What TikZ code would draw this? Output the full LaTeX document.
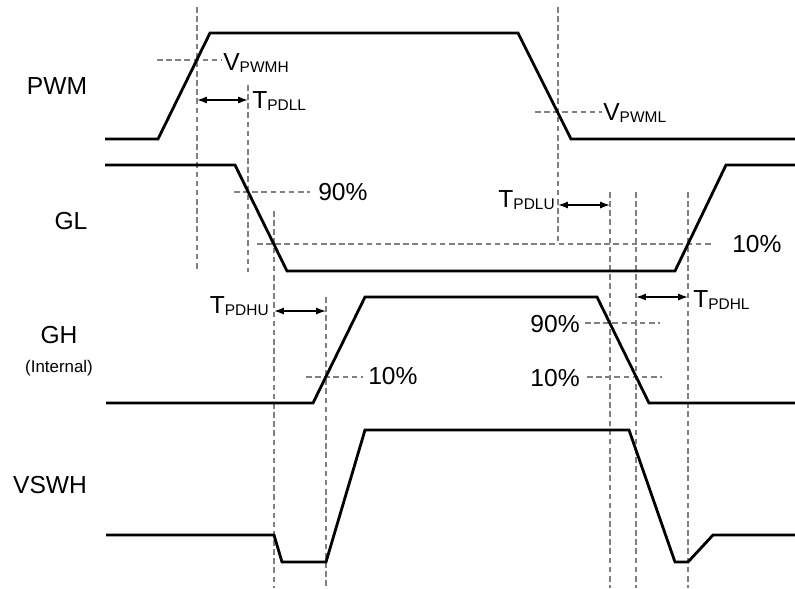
\documentclass[tikz,border=0pt]{standalone}
\usepackage{fontspec}
\setmainfont{Liberation Sans}
\usetikzlibrary{arrows.meta}
\newcommand{\lowtxt}[1]{\raisebox{-2pt}{\fontsize{11pt}{11pt}\selectfont #1}}
\begin{document}
\begin{tikzpicture}[x=0.025cm, y=-0.025cm,
    wave/.style={line width=2pt, line join=miter},
    guide/.style={gray, line width=1.1pt, dash pattern=on 4pt off 2.5pt},
    dim/.style={{Latex[length=7pt,width=5pt]}-{Latex[length=7pt,width=5pt]}, line width=1pt},
    lbl/.style={inner sep=0pt, font=\fontsize{17.5pt}{18pt}\selectfont}]
    \useasboundingbox (0,0) rectangle (795,588);

    % signal names
    \node[lbl] (pwm) at (57,86) {PWM};
    \node[lbl] (gl) at (71,221) {GL};
    \node[lbl] (gh) at (59,335) {GH};
    \node[inner sep=0pt, font=\fontsize{12pt}{12pt}\selectfont] (int) at (59,368) {(Internal)};
    \node[lbl] (vswh) at (50,485) {VSWH};

    % guide lines
    \draw[guide] (197,7) -- (197,272);
    \draw[guide] (248,85) -- (248,272);
    \draw[guide] (558,7) -- (558,242);
    \draw[guide] (274,211) -- (274,588);
    \draw[guide] (326,297) -- (326,588);
    \draw[guide] (610,192) -- (610,588);
    \draw[guide] (636,192) -- (636,588);
    \draw[guide] (688,192) -- (688,588);

    \draw[guide] (157,60) -- (222,60);
    \draw[guide] (535,112) -- (602,112);
    \draw[guide] (234,192) -- (310,192);
    \draw[guide] (257,244) -- (712,244);
    \draw[guide] (585,323) -- (660,323);
    \draw[guide] (306,377) -- (363,377);
    \draw[guide] (587,377) -- (662,377);

    % waveforms
    \draw[wave] (105,139) -- (158,139) -- (210,33) -- (518,33) -- (571,139) -- (795,139);
    \draw[wave] (105,165) -- (235,165) -- (287,271) -- (675,271) -- (726,165) -- (795,165);
    \draw[wave] (106,403) -- (313,403) -- (365,297) -- (597,297) -- (649,403) -- (795,403);
    \draw[wave] (106,535) -- (274,535) -- (282,562) -- (326,562) -- (365,430)
        -- (629,430) -- (675,562) -- (688,562) -- (713,535) -- (795,535);

    % delays
    \coordinate (pdll1) at (197,100);
    \coordinate (pdll2) at (248,100);
    \coordinate (pdlu1) at (558,205);
    \coordinate (pdlu2) at (610,205);
    \coordinate (pdhu1) at (274,311);
    \coordinate (pdhu2) at (326,311);
    \coordinate (pdhl1) at (636,297);
    \coordinate (pdhl2) at (688,297);
    \draw[dim] (pdll1) -- (pdll2);
    \draw[dim] (pdlu1) -- (pdlu2);
    \draw[dim] (pdhu1) -- (pdhu2);
    \draw[dim] (pdhl1) -- (pdhl2);

    % levels and delay names
    \node[lbl, anchor=base west] (vpwmh) at (223,70) {V\lowtxt{PWMH}};
    \node[lbl, anchor=base west] (tpdll) at (252,108) {T\lowtxt{PDLL}};
    \node[lbl, anchor=base west] (vpwml) at (603,120) {V\lowtxt{PWML}};
    \node[lbl, anchor=base east] (tpdlu) at (555,207) {T\lowtxt{PDLU}};
    \node[lbl, anchor=base east] (tpdhu) at (269,313) {T\lowtxt{PDHU}};
    \node[lbl, anchor=base west] (tpdhl) at (693,307) {T\lowtxt{PDHL}};

    \node[lbl, anchor=base west] (gl90) at (318,200) {90\%};
    \node[lbl, anchor=base west] (gl10) at (732,252) {10\%};
    \node[lbl, anchor=base west] (gh10a) at (368,384) {10\%};
    \node[lbl, anchor=base east] (gh90) at (580,332) {90\%};
    \node[lbl, anchor=base east] (gh10b) at (580,386) {10\%};
\end{tikzpicture}
\end{document}
